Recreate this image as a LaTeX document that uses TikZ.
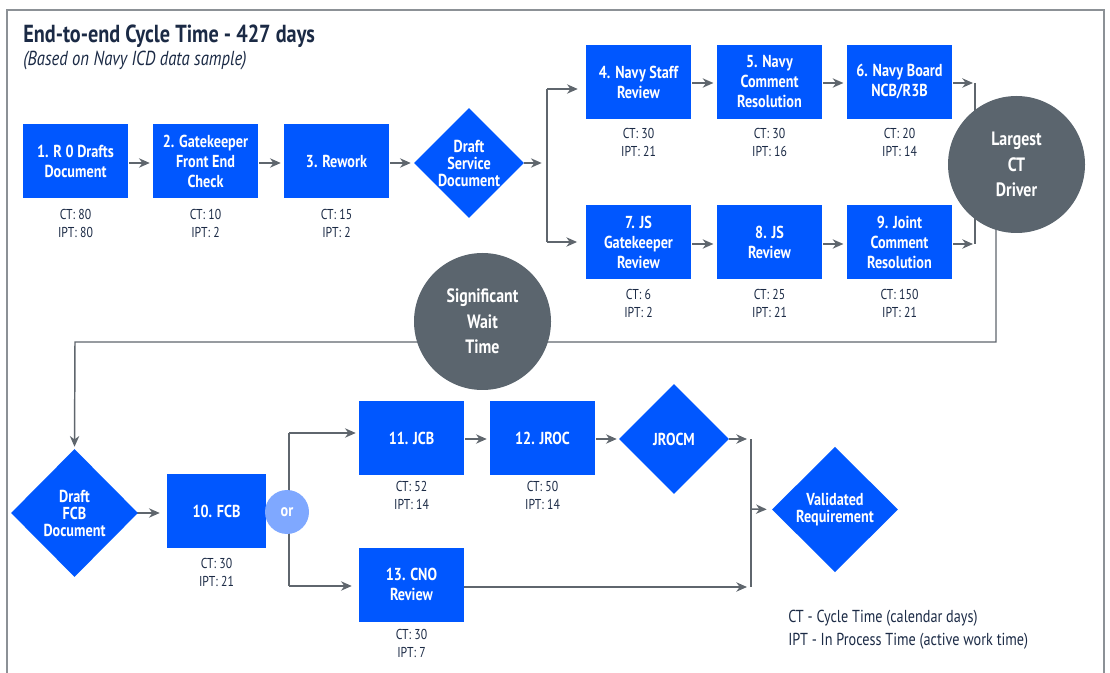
\documentclass[tikz,border=0pt]{standalone}
\usepackage{fontspec}
\setmainfont{PT Sans}[FakeStretch=0.82]
\usetikzlibrary{arrows.meta,shapes.geometric,backgrounds}
\definecolor{boxblue}{HTML}{0057FF}
\definecolor{circgray}{HTML}{5B656E}
\definecolor{orblue}{HTML}{7FA8FF}
\definecolor{linegray}{HTML}{5F666D}
\definecolor{navy}{HTML}{1B2A45}
\definecolor{framegray}{HTML}{8C9196}
\begin{document}
\begin{tikzpicture}[x=0.75pt,y=-0.75pt,
  procbox/.style={rectangle, fill=boxblue, minimum width=78.75pt, minimum height=55.5pt, inner sep=0pt, text=white, font=\bfseries\fontsize{13}{15}\selectfont, align=center},
  dia/.style={diamond, fill=boxblue, inner sep=0pt, aspect=1},
  diatext/.style={text=white, font=\bfseries\fontsize{13}{12.75}\selectfont, align=center},
  metric/.style={text=navy, font=\fontsize{10.75}{13.5}\selectfont, align=center, inner sep=0pt},
  bigcirc/.style={circle, fill=circgray, minimum size=102.75pt, inner sep=0pt, text=white, font=\bfseries\fontsize{14.5}{19}\selectfont, align=center},
  conn/.style={draw=linegray, line width=1.1pt},
  arr/.style={conn, -{Stealth[length=8pt,width=7pt,inset=2.5pt]}},
]
\useasboundingbox (0,0) rectangle (1110,673);
% frame
\draw[framegray, line width=1.2pt] (7,673) -- (7,10) -- (1104,10) -- (1104,673);

% title
\node[anchor=base west, inner sep=0pt, text=navy, font=\bfseries\fontsize{18.5}{20}\selectfont] (title) at (23,43) {End-to-end Cycle Time - 427 days};
\node[anchor=base west, inner sep=0pt, text=navy, font=\itshape\fontsize{15.2}{17}\selectfont] (subtitle) at (23,66) {(Based on Navy ICD data sample)};

% row 1
\node[procbox] (n1) at (75.5,161.5) {1. R 0 Drafts\\Document};
\node[procbox] (n2) at (205.5,161.5) {2. Gatekeeper\\Front End\\Check};
\node[procbox] (n3) at (336.5,161.5) {3. Rework};
\node[metric] (m1) at (75.5,223) {CT: 80\\IPT: 80};
\node[metric] (m2) at (205.5,223) {CT: 10\\IPT: 2};
\node[metric] (m3) at (336.5,223) {CT: 15\\IPT: 2};
\node[dia, minimum width=82.5pt, minimum height=82.5pt, label={[diatext]center:{Draft\\Service\\Document}}] (dsd) at (469,163) {};

\node[procbox] (n4) at (638.5,82) {4. Navy Staff\\Review};
\node[procbox] (n5) at (769.5,82) {5. Navy\\Comment\\Resolution};
\node[procbox] (n6) at (899.5,82) {6. Navy Board\\NCB/R3B};
\node[metric] (m4) at (638.5,142) {CT: 30\\IPT: 21};
\node[metric] (m5) at (769.5,142) {CT: 30\\IPT: 16};
\node[metric] (m6) at (899.5,142) {CT: 20\\IPT: 14};

\node[procbox] (n7) at (638.5,242) {7. JS\\Gatekeeper\\Review};
\node[procbox] (n8) at (769.5,242) {8. JS\\Review};
\node[procbox] (n9) at (899.5,242) {9. Joint\\Comment\\Resolution};
\node[metric] (m7) at (638.5,303) {CT: 6\\IPT: 2};
\node[metric] (m8) at (769.5,303) {CT: 25\\IPT: 21};
\node[metric] (m9) at (899.5,303) {CT: 150\\IPT: 21};

\node[bigcirc] (largest) at (1016.5,164.5) {Largest\\CT\\Driver};
\node[bigcirc] (sigwait) at (482.5,321.5) {Significant\\Wait\\Time};

% bottom part
\node[dia, minimum width=95.25pt, minimum height=96pt, label={[diatext]center:{Draft\\FCB\\Document}}] (fcbd) at (74.5,513) {};
\node[procbox, minimum width=74.25pt] (n10) at (216.5,511) {10. FCB};
\node[metric] (m10) at (216.5,572.5) {CT: 30\\IPT: 21};
\node[circle, fill=orblue, minimum size=33pt, inner sep=0pt, text=white, font=\bfseries\fontsize{13}{14}\selectfont] (orn) at (287,512) {or};

\node[procbox] (n11) at (411.5,438) {11. JCB};
\node[procbox] (n12) at (542.5,438) {12. JROC};
\node[metric] (m11) at (411.5,495) {CT: 52\\IPT: 14};
\node[metric] (m12) at (542.5,495) {CT: 50\\IPT: 14};
\node[dia, minimum width=82.5pt, minimum height=82.5pt, label={[diatext]center:{JROCM}}] (jrocm) at (674,439) {};
\node[procbox] (n13) at (411.5,584.5) {13. CNO\\Review};
\node[metric] (m13) at (411.5,643) {CT: 30\\IPT: 7};
\node[dia, minimum width=94.5pt, minimum height=94pt, label={[diatext]center:{Validated\\Requirement}}] (valid) at (835,509.5) {};

\node[anchor=west, inner sep=0pt, text=navy, font=\fontsize{13}{17.25}\selectfont, align=left] (legend) at (788,629.5) {CT - Cycle Time (calendar days)\\IPT - In Process Time (active work time)};

% coordinates
\coordinate (sA) at (547,89);
\coordinate (sB) at (547,242);
\coordinate (rA) at (975,83);
\coordinate (rB) at (975,244);
\coordinate (rD) at (996,200);
\coordinate (rC) at (996,342);
\coordinate (lC) at (75,342);
\coordinate (oA) at (289,433);
\coordinate (oB) at (289,586);
\coordinate (vA) at (751,439);
\coordinate (vB) at (751,587);
\coordinate (vM) at (751,509);

\begin{pgfonlayer}{background}
\draw[arr, shorten <=0.75pt, shorten >=2.25pt] (n1.east |- 0,163) -- (n2.west |- 0,163);
\draw[arr, shorten <=0.75pt, shorten >=2.25pt] (n2.east |- 0,163) -- (n3.west |- 0,163);
\draw[arr, shorten <=0.75pt, shorten >=2.25pt] (n3.east |- 0,163) -- (dsd.west);
\draw[arr, shorten >=4pt] (dsd.east) -- (dsd.east -| sA);
\draw[conn] (sA) -- (sB);
\draw[arr, shorten >=6pt] (sA) -- (n4.west |- sA);
\draw[arr, shorten >=6.5pt] (sB) -- (n7.west |- sB);
\draw[arr, shorten <=0.75pt, shorten >=2.5pt] (n4.east |- 0,83) -- (n5.west |- 0,83);
\draw[arr, shorten <=0.75pt, shorten >=2.5pt] (n5.east |- 0,83) -- (n6.west |- 0,83);
\draw[arr, shorten <=0.75pt, shorten >=2.5pt] (n7.east |- 0,244) -- (n8.west |- 0,244);
\draw[arr, shorten <=0.75pt, shorten >=2.5pt] (n8.east |- 0,244) -- (n9.west |- 0,244);
\draw[arr, shorten <=0.75pt, shorten >=1.5pt] (n6.east |- rA) -- (rA);
\draw[arr, shorten <=0.75pt, shorten >=1.5pt] (n9.east |- rB) -- (rB);
\draw[conn] (rA) -- (rB);
\draw[arr, shorten >=1.5pt] (rD) -- (rC) -- (lC) -- (fcbd.north);
\draw[arr, shorten <=-3.75pt, shorten >=5.25pt] (fcbd.east) -- (n10.west |- fcbd.east);
\draw[conn] (oA) -- (oB);
\draw[arr, shorten >=2.25pt] (oA) -- (n11.west |- oA);
\draw[arr, shorten >=5.25pt] (oB) -- (n13.west |- oB);
\draw[arr, shorten <=0.75pt, shorten >=2.25pt] (n11.east |- 0,439) -- (n12.west |- 0,439);
\draw[arr, shorten <=0.75pt, shorten >=1.5pt] (n12.east |- 0,439) -- (jrocm.west);
\draw[arr, shorten >=3pt] (jrocm.east) -- (vA);
\draw[arr, shorten >=3pt] (n13.east |- vB) -- (vB);
\draw[conn] (vA) -- (vB);
\draw[arr, shorten >=3.75pt] (vM) -- (valid.west);
\end{pgfonlayer}
\end{tikzpicture}
\end{document}
